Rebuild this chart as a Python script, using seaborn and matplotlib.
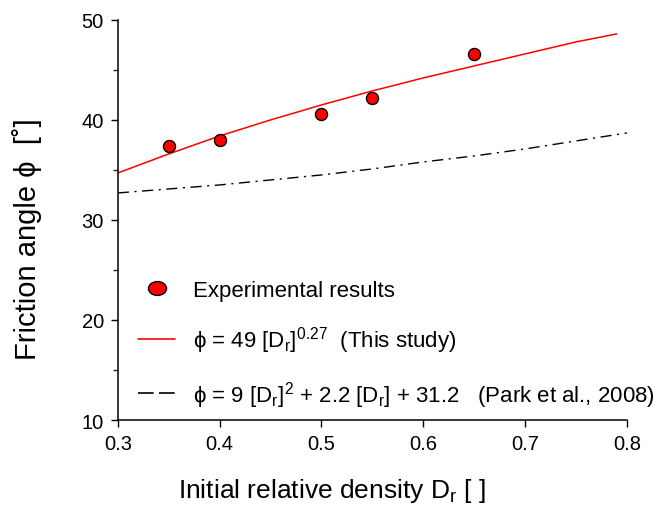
import seaborn as sns
import numpy as np
import matplotlib.pyplot as plt
from matplotlib.lines import Line2D
from matplotlib.path import Path
from matplotlib.transforms import Affine2D

# experimental points
dr_exp = [0.35, 0.40, 0.50, 0.55, 0.65]
phi_exp = [37.4, 38.0, 40.6, 42.2, 46.6]

# fitted curve (this study)
dr_fit = [0.30, 0.35, 0.40, 0.45, 0.50, 0.55, 0.60, 0.65, 0.70, 0.75, 0.79]
phi_fit = [34.7, 36.6, 38.4, 40.0, 41.5, 42.9, 44.2, 45.4, 46.6, 47.8, 48.6]

# Park et al. (2008) curve
dr_park = [0.30, 0.35, 0.40, 0.45, 0.50, 0.55, 0.60, 0.65, 0.70, 0.75, 0.80]
phi_park = [32.7, 33.1, 33.5, 34.0, 34.5, 35.1, 35.8, 36.4, 37.1, 37.9, 38.7]

labels = ["Experimental results",
          r"ϕ = 49 [D$\mathregular{_r}$]$\mathregular{^{0.27}}$  (This study)",
          r"ϕ = 9 [D$\mathregular{_r}$]$\mathregular{^2}$ + 2.2 [D$\mathregular{_r}$] + 31.2   (Park et al., 2008)"]

sns.set_style("ticks")
plt.rcParams["font.family"] = ["Liberation Sans", "DejaVu Sans"]
plt.rcParams["text.color"] = "black"
plt.rcParams["axes.labelcolor"] = "black"

fig = plt.figure(figsize=(6.62, 5.10), dpi=100)
ax = fig.add_axes([0.178, 0.1745, 0.769, 0.7845])

sns.lineplot(x=dr_fit, y=phi_fit, ax=ax, color="red", lw=1.1)
sns.lineplot(x=dr_park, y=phi_park, ax=ax, color="black", lw=1.0,
             linestyle=(0, (8, 4, 1.5, 4)))
sns.scatterplot(x=dr_exp, y=phi_exp, ax=ax, color="red", edgecolor="black",
                linewidth=1.0, s=75, zorder=5)

ax.set_xlim(0.3, 0.8)
ax.set_ylim(10, 50)
ax.set_xticks([0.3, 0.4, 0.5, 0.6, 0.7, 0.8])
ax.set_yticks([10, 20, 30, 40, 50])
ax.set_yticks([15, 25, 35, 45], minor=True)
ax.tick_params(axis="both", which="major", labelsize=14.5, length=5,
               width=1.0, direction="out", colors="black", pad=5)
ax.tick_params(axis="y", which="minor", length=3.5, width=1.0, direction="out")
for side in ["left", "bottom"]:
    ax.spines[side].set_linewidth(1.1)
    ax.spines[side].set_color("black")
sns.despine(ax=ax)

ax.set_xlabel(r"Initial relative density D$\mathregular{_r}$ [ ]", fontsize=19)
ax.set_ylabel("Friction angle ϕ  [˚]", fontsize=21)
ax.xaxis.set_label_coords(0.42, -0.14)
ax.yaxis.set_label_coords(-0.149, 0.455)

# slightly wide oval for the legend marker
oval = Path.unit_circle().transformed(Affine2D().scale(1.3, 1.0))
handles = [
    Line2D([], [], ls="none", marker=oval, ms=13, mfc="red", mec="black", mew=1.0),
    Line2D([], [], color="red", lw=1.2),
    Line2D([], [], color="black", lw=1.2, ls=(0, (9.4, 3.2))),
]
ax.legend(handles, labels, loc="lower left", bbox_to_anchor=(0.04, 0.026),
          frameon=False, fontsize=16, handlelength=1.65, handletextpad=0.8,
          labelspacing=1.05, borderpad=0, borderaxespad=0)

fig.savefig("out.png", dpi=100)
